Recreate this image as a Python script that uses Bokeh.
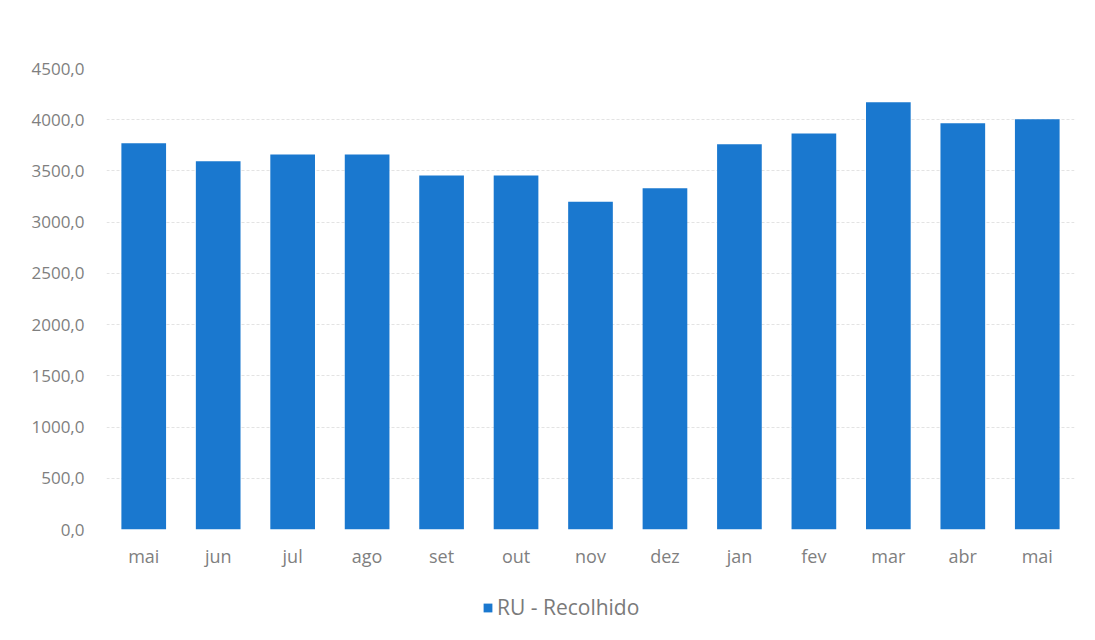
from bokeh.plotting import figure
from bokeh.layouts import column
from bokeh.models import ColumnDataSource, Range1d, FixedTicker, CustomJSTickFormatter, Legend, LegendItem
from bokeh.embed import file_html
from bokeh.resources import INLINE

months = ["mai", "jun", "jul", "ago", "set", "out", "nov", "dez", "jan", "fev", "mar", "abr", "mai"]
values = [3770, 3595, 3660, 3660, 3455, 3455, 3200, 3330, 3760, 3865, 4170, 3965, 4005]
y_ticks = [0, 500, 1000, 1500, 2000, 2500, 3000, 3500, 4000, 4500]
series_name = "RU - Recolhido"

xs = list(range(len(months)))
src = ColumnDataSource(dict(x=xs, top=values))

FONT = "Open Sans"
BAR = "#1a78cf"
p = figure(width=1079, height=570, output_backend="svg", toolbar_location=None,
           x_range=Range1d(-0.5, len(months) - 0.5), y_range=Range1d(0, 4500),
           min_border_left=106, min_border_right=5, min_border_top=68, min_border_bottom=40)
p.outline_line_color = None
p.background_fill_color = "white"

r = p.vbar(x="x", top="top", width=0.6, source=src, fill_color=BAR, line_color=None)

p.xaxis.ticker = FixedTicker(ticks=xs)
p.xaxis.major_label_overrides = {i: m for i, m in enumerate(months)}
p.yaxis.ticker = FixedTicker(ticks=y_ticks)
p.yaxis.formatter = CustomJSTickFormatter(code="return tick.toFixed(1).replace('.', ',');")

for ax in (p.xaxis, p.yaxis):
    ax.axis_line_color = None
    ax.major_tick_line_color = None
    ax.minor_tick_line_color = None
    ax.major_label_text_font = FONT
    ax.major_label_text_color = "#7f7f7f"
p.yaxis.major_label_text_font_size = "17px"
p.xaxis.major_label_text_font_size = "18px"
p.yaxis.major_label_standoff = 16
p.xaxis.major_label_standoff = 8

p.xgrid.grid_line_color = None
p.ygrid.grid_line_color = "#e3e3e3"
p.ygrid.grid_line_dash = "3 2"

# legend strip below the chart
q = figure(width=1079, height=54, output_backend="svg", toolbar_location=None,
           x_range=Range1d(0, 1), y_range=Range1d(0, 1),
           min_border_left=0, min_border_right=0, min_border_top=0, min_border_bottom=0)
q.axis.visible = False
q.grid.visible = False
q.outline_line_color = None
rq = q.vbar(x="x", top="top", width=0.6, source=src, fill_color=BAR, line_color=None, visible=False)

legend = Legend(items=[LegendItem(label=series_name, renderers=[rq])], location=(376, 3),
                orientation="horizontal", border_line_color=None, background_fill_alpha=0,
                inactive_fill_alpha=0,
                label_text_font=FONT, label_text_font_size="21px", label_text_color="#7a7a7a",
                glyph_width=11, glyph_height=11, label_standoff=4, margin=0, padding=4)
q.add_layout(legend, "center")

layout = column(p, q, spacing=0)
open("out.html", "w").write(file_html(layout, INLINE))
